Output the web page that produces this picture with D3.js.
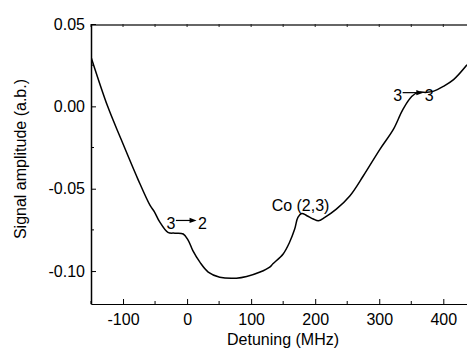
<!DOCTYPE html>
<html>
<head>
<meta charset="utf-8">
<script src="https://cdn.jsdelivr.net/npm/d3@7"></script>
<style>
  html, body { margin: 0; padding: 0; background: #fff; }
  svg { display: block; font-family: "Liberation Sans", Arial, sans-serif; }
</style>
</head>
<body>
<svg id="chart" width="467" height="349"></svg>
<script>
// ---- data ----
const detuning = [-150,-124,-103,-77,-58,-51,-43,-30,-19,-6,2,9,20,33,51,77,93,114,129,134,150,160,168,173,179,187,197,205,215,233,254,275,301,322,337,351,361,374,384,400,416,437];
const amplitude = [0.030,0.000,-0.020,-0.044,-0.060,-0.064,-0.070,-0.0765,-0.077,-0.0775,-0.0815,-0.0876,-0.0946,-0.1006,-0.1037,-0.1043,-0.1033,-0.1006,-0.0976,-0.0956,-0.0896,-0.0825,-0.0745,-0.0674,-0.0650,-0.0664,-0.0684,-0.0695,-0.0674,-0.0624,-0.0544,-0.0423,-0.0261,-0.0140,-0.0018,0.0061,0.0085,0.0085,0.0091,0.0121,0.0162,0.0252];
const xTicks = [-100, 0, 100, 200, 300, 400];
const xMinorTicks = [-150, -50, 50, 150, 250, 350];
const yTicks = [0.05, 0.00, -0.05, -0.10];
const yMinorTicks = [0.025, -0.025, -0.075];
const transitionLabels = [
  { from: "3", to: "2", x: -32, y: -0.0745 },
  { from: "3", to: "3", x: 322, y: 0.0031 }
];
const textLabels = [ { text: "Co (2,3)", x: 132, y: -0.0636 } ];
const xTitle = "Detuning (MHz)";
const yTitle = "Signal amplitude (a.b.)";

(function () {
// ---- layout ----
const svg = d3.select("#chart");
const mLeft = 91, mRight = 467, mTop = 24, mBottom = 304;
const x = d3.scaleLinear().domain([-150, 437]).range([mLeft, mRight]);
const y = d3.scaleLinear().domain([-0.12, 0.05]).range([mBottom, mTop]);
const fs = 16;

svg.append("defs").append("clipPath").attr("id", "clip")
  .append("rect").attr("x", mLeft).attr("y", mTop).attr("width", mRight - mLeft).attr("height", mBottom - mTop);

// top frame line (grey)
svg.append("line").attr("x1", mLeft).attr("x2", mRight).attr("y1", mTop + 1).attr("y2", mTop + 1)
  .attr("stroke", "#666").attr("stroke-width", 2);
svg.append("g").selectAll("line").data(xTicks.concat(xMinorTicks)).join("line")
  .attr("x1", d => x(d)).attr("x2", d => x(d)).attr("y1", mTop).attr("y2", mTop + 3)
  .attr("stroke", "#222").attr("stroke-width", 1);

// bottom axis
const xAxis = svg.append("g").attr("transform", `translate(0,${mBottom})`)
  .call(d3.axisBottom(x).tickValues(xTicks).tickSizeInner(-5).tickSizeOuter(0).tickPadding(9.5).tickFormat(d => String(d)));
xAxis.select(".domain").attr("stroke", "#000").attr("stroke-width", 1.2);
xAxis.selectAll("text").attr("font-size", fs).attr("font-family", "Liberation Sans, Arial, sans-serif").attr("fill", "#000");
xAxis.append("g").selectAll("line").data(xMinorTicks).join("line")
  .attr("x1", d => x(d)).attr("x2", d => x(d)).attr("y1", 0).attr("y2", -3).attr("stroke", "#000");

// left axis
const yAxis = svg.append("g").attr("transform", `translate(${mLeft},0)`)
  .call(d3.axisLeft(y).tickValues(yTicks).tickSizeInner(-5).tickSizeOuter(0).tickPadding(6).tickFormat(d => d.toFixed(2)));
yAxis.select(".domain").attr("stroke", "#000").attr("stroke-width", 1.5);
yAxis.selectAll("text").attr("font-size", fs).attr("font-family", "Liberation Sans, Arial, sans-serif").attr("fill", "#000");
yAxis.append("g").selectAll("line").data(yMinorTicks).join("line")
  .attr("x1", 0).attr("x2", 3).attr("y1", d => y(d)).attr("y2", d => y(d)).attr("stroke", "#000");

// curve
const pts = detuning.map((d, i) => [d, amplitude[i]]);
svg.append("path").datum(pts)
  .attr("clip-path", "url(#clip)")
  .attr("fill", "none").attr("stroke", "#000").attr("stroke-width", 1.5)
  .attr("d", d3.line().x(d => x(d[0])).y(d => y(d[1])).curve(d3.curveCatmullRom.alpha(0.5)));

// annotations
transitionLabels.forEach(a => {
  const g = svg.append("g").attr("transform", `translate(${x(a.x)},${y(a.y)})`);
  g.append("text").attr("font-size", fs).attr("x", 0).attr("y", 0).text(a.from);
  g.append("line").attr("x1", 9.3).attr("x2", 25).attr("y1", -8.6).attr("y2", -8.6).attr("stroke", "#000").attr("stroke-width", 1.2);
  g.append("path").attr("d", "M23,-11.2 L30,-8.6 L23,-6 Z").attr("fill", "#000");
  g.append("text").attr("font-size", fs).attr("x", 31.3).attr("y", 0).text(a.to);
});
textLabels.forEach(a => {
  svg.append("text").attr("font-size", fs).attr("x", x(a.x)).attr("y", y(a.y)).text(a.text);
});

// titles
svg.append("text").attr("font-size", fs).attr("text-anchor", "middle")
  .attr("x", 283).attr("y", 345).text(xTitle);
svg.append("text").attr("font-size", fs).attr("text-anchor", "middle")
  .attr("transform", `translate(26,159) rotate(-90)`).text(yTitle);
})();
</script>
</body>
</html>
